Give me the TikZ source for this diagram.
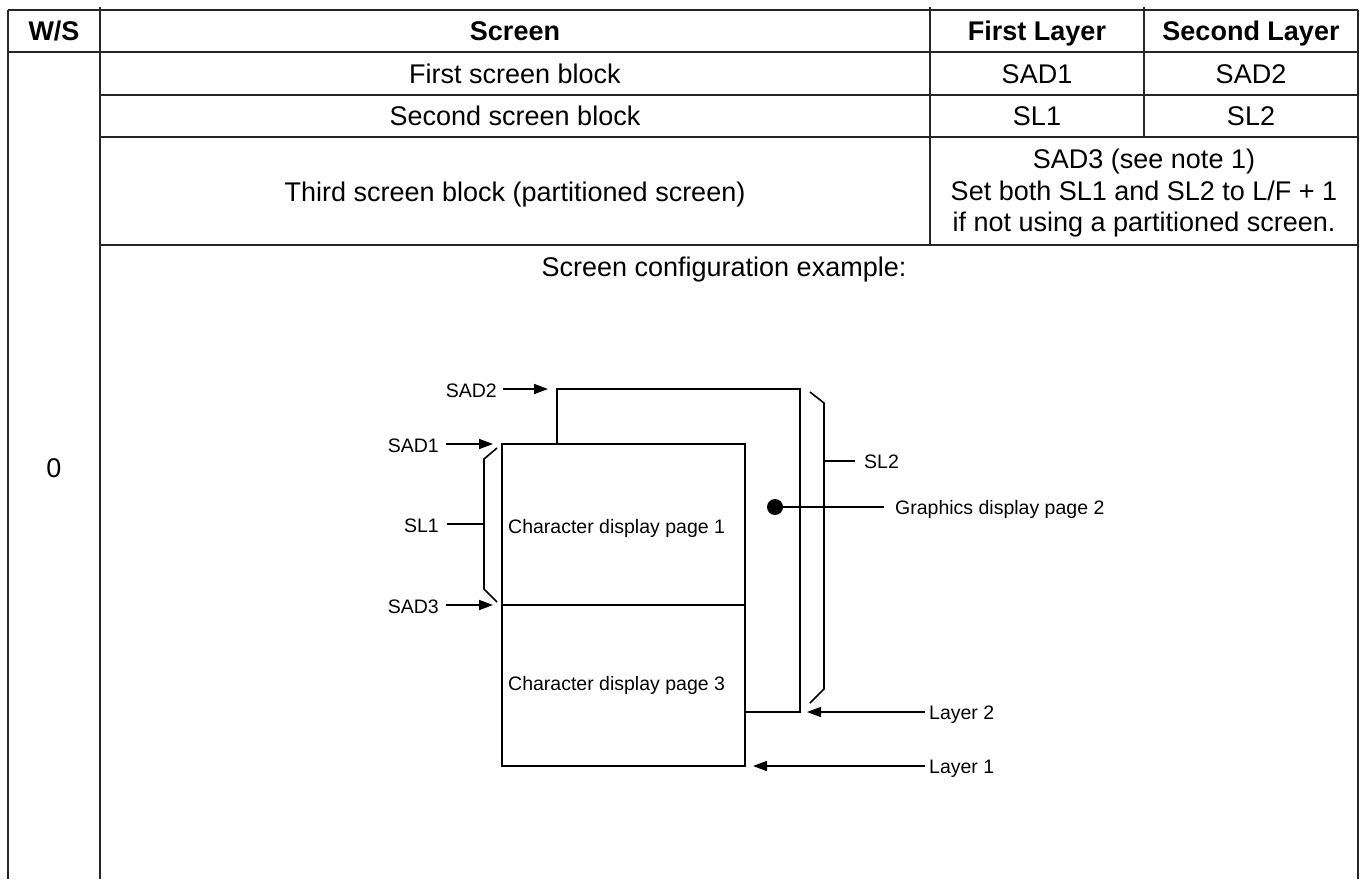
\documentclass[tikz,border=0pt]{standalone}
\usepackage{fontspec}
\setmainfont{Liberation Sans}
\usetikzlibrary{arrows.meta}
\begin{document}
\begin{tikzpicture}[x=1pt,y=-1pt,
  grid/.style={line width=1.8pt, draw=black!85},
  dline/.style={line width=1.6pt, draw=black},
  tbl/.style={font=\fontsize{27}{33}\selectfont, inner sep=0pt},
  hdr/.style={font=\bfseries\fontsize{27}{33}\selectfont, inner sep=0pt},
  lbl/.style={font=\fontsize{19.5}{23}\selectfont, inner sep=0pt},
  arr/.style={dline, -{Triangle[length=14pt,width=10pt]}},
]
\useasboundingbox (0,0) rectangle (1366,879);
% ---------- table grid ----------
\draw[grid] (8,10) -- (1358,10);
\draw[grid] (8,52) -- (1358,52);
\draw[grid] (100,95) -- (1358,95);
\draw[grid] (100,137) -- (1358,137);
\draw[grid] (100,245) -- (1358,245);
\draw[grid] (8,10) -- (8,879);
\draw[grid] (100,7) -- (100,879);
\draw[grid] (930,7) -- (930,245);
\draw[grid] (1144,7) -- (1144,137);
\draw[grid] (1358,10) -- (1358,879);
% ---------- table text ----------
\node[hdr, anchor=base] (hws) at (54,40) {W/S};
\node[hdr, anchor=base] (hscr) at (515,40) {Screen};
\node[hdr, anchor=base] (hfl) at (1037,40) {First Layer};
\node[hdr, anchor=base] (hsl) at (1251,40) {Second Layer};
\node[tbl, anchor=base] (r1a) at (515,83) {First screen block};
\node[tbl, anchor=base] (r1b) at (1037,83) {SAD1};
\node[tbl, anchor=base] (r1c) at (1251,83) {SAD2};
\node[tbl, anchor=base] (r2a) at (515,125) {Second screen block};
\node[tbl, anchor=base] (r2b) at (1037,125) {SL1};
\node[tbl, anchor=base] (r2c) at (1251,125) {SL2};
\node[tbl, anchor=base] (r3a) at (515,201) {Third screen block (partitioned screen)};
\node[tbl, anchor=base] (r3b1) at (1144,168) {SAD3 (see note 1)};
\node[tbl, anchor=base] (r3b2) at (1144,200) {Set both SL1 and SL2 to L/F + 1};
\node[tbl, anchor=base] (r3b3) at (1144,231) {if not using a partitioned screen.};
\node[tbl, anchor=base] (ws0) at (54,477) {0};
\node[tbl, anchor=base] (ex) at (724,276) {Screen configuration example:};
% ---------- diagram ----------
\coordinate (L2tl) at (557,389);
\coordinate (L2tr) at (800,389);
\coordinate (L2br) at (800,712);
\coordinate (L2bl) at (745,712);
\coordinate (L2j) at (557,444);
\coordinate (L1tl) at (502,444);
\coordinate (L1br) at (745,766);
\coordinate (L1ml) at (502,605);
\coordinate (L1mr) at (745,605);
% layer 1 rectangle
\draw[dline] (L1tl) rectangle (L1br);
\draw[dline] (L1ml) -- (L1mr);
% layer 2 outline
\draw[dline] (L2j) -- (L2tl) -- (L2tr) -- (L2br) -- (L2bl);
\node[lbl, anchor=base west] (cp1) at (508,533) {Character display page 1};
\node[lbl, anchor=base west] (cp3) at (508,690) {Character display page 3};
% left labels
\node[lbl, anchor=base east] (sad2) at (497,397) {SAD2};
\node[lbl, anchor=base east] (sad1) at (439,452) {SAD1};
\node[lbl, anchor=base east] (sl1) at (439,532) {SL1};
\node[lbl, anchor=base east] (sad3) at (439,613) {SAD3};
\coordinate (a2) at (548,389);
\coordinate (a1) at (493,444);
\coordinate (a3) at (493,605);
\draw[arr] (sad2.east |- a2) ++(6,0) -- (a2);
\draw[arr] (sad1.east |- a1) ++(7,0) -- (a1);
\draw[arr] (sad3.east |- a3) ++(7,0) -- (a3);
% SL1 bracket
\coordinate (b1t) at (497,448);
\coordinate (b1a) at (484,459);
\coordinate (b1m) at (484,524);
\coordinate (b1b) at (484,589);
\coordinate (b1e) at (497,602);
\draw[dline] (b1t) -- (b1a) -- (b1b) -- (b1e);
\draw[dline] (sl1.east |- b1m) ++(8,0) -- (b1m);
% SL2 bracket
\coordinate (b2t) at (810,392);
\coordinate (b2a) at (824,403);
\coordinate (b2m) at (824,461);
\coordinate (b2b) at (824,689);
\coordinate (b2e) at (810,703);
\draw[dline] (b2t) -- (b2a) -- (b2b) -- (b2e);
\node[lbl, anchor=base west] (sl2) at (864,468) {SL2};
\coordinate (sl2e) at (855,461);
\draw[dline] (b2m) -- (sl2e);
% graphics page 2
\node[circle, fill=black, inner sep=0pt, minimum size=16pt] (dot) at (775,507) {};
\node[lbl, anchor=base west] (gp2) at (895,514) {Graphics display page 2};
\coordinate (gpe) at (884,507);
\draw[dline] (dot.center) -- (gpe);
% layer arrows
\node[lbl, anchor=base west] (ly2) at (929,719) {Layer 2};
\node[lbl, anchor=base west] (ly1) at (929,773) {Layer 1};
\coordinate (t2) at (807,712);
\coordinate (t1) at (753,766);
\draw[arr] (ly2.west |- t2) ++(-4,0) -- (t2);
\draw[arr] (ly1.west |- t1) ++(-4,0) -- (t1);
\end{tikzpicture}
\end{document}
